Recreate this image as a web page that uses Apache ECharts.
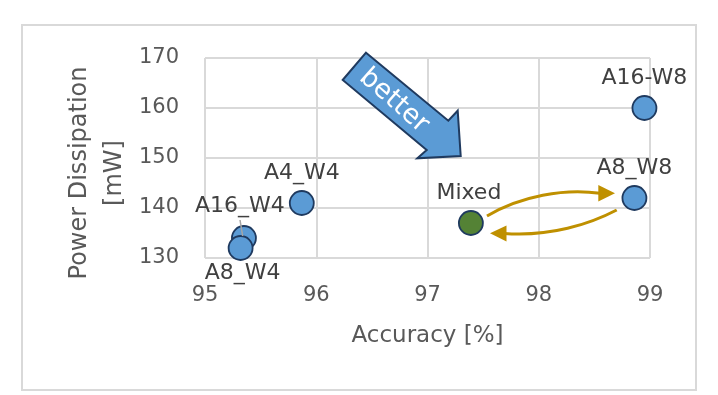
<!DOCTYPE html>
<html>
<head>
<meta charset="utf-8">
<script src="https://cdn.jsdelivr.net/npm/echarts@6/dist/echarts.min.js"></script>
<style>html,body{margin:0;padding:0;background:#fff;}#c{width:718px;height:395px;}</style>
</head>
<body>
<div id="c"></div>
<script>
// ---- data ----
const names = ['A16-W8', 'A8_W8', 'Mixed', 'A4_W4', 'A16_W4', 'A8_W4'];
const accuracy = [98.95, 98.86, 97.39, 95.87, 95.35, 95.32];
const power = [160, 142, 137, 141, 134, 132];
const xTicks = [95, 96, 97, 98, 99];
const yTicks = [130, 140, 150, 160, 170];

const labelPos = {'A16-W8':['top',6,0],'A8_W8':['top',6,0],'Mixed':['top',6,-2],'A4_W4':['top',6,0],'A16_W4':['top',8,-4],'A8_W4':['bottom',1,2]};
const txt = '#595959';
const lblTxt = '#404040';
const font = 'DejaVu Sans';

const chart = echarts.init(document.getElementById('c'));
const data = names.map((n, i) => ({
  name: n,
  value: [accuracy[i], power[i]],
  itemStyle: { color: n === 'Mixed' ? '#548235' : '#5b9bd5', borderColor: '#1f3a5f', borderWidth: 1.8, opacity: 1 },
  label: { position: labelPos[n][0], distance: labelPos[n][1], offset: [labelPos[n][2], 0] }
}));

chart.setOption({
  backgroundColor: '#fff',
  animation: false,
  grid: { left: 205, right: 68, top: 58, bottom: 137 },
  xAxis: {
    type: 'value', min: xTicks[0], max: xTicks[xTicks.length - 1], interval: 1,
    name: 'Accuracy [%]', nameLocation: 'middle', nameGap: 67,
    nameTextStyle: { color: txt, fontSize: 23, fontFamily: font },
    axisLine: { show: false }, axisTick: { show: false },
    axisLabel: { color: txt, fontSize: 21, fontFamily: font, margin: 27 },
    splitLine: { show: true, lineStyle: { color: '#d9d9d9', width: 2 } }
  },
  yAxis: {
    type: 'value', min: yTicks[0], max: yTicks[yTicks.length - 1], interval: 10,
    axisLine: { show: false }, axisTick: { show: false },
    axisLabel: { color: txt, fontSize: 21, fontFamily: font, margin: 26 },
    splitLine: { show: true, lineStyle: { color: '#d9d9d9', width: 2 } }
  },
  series: [{
    type: 'scatter', symbol: 'circle', symbolSize: 24, clip: false, z: 5,
    data: data,
    label: { show: true, formatter: '{b}', color: lblTxt, fontSize: 22, fontFamily: font }
  }],
  graphic: [
    { type: 'rect', shape: { x: 22, y: 25, width: 674, height: 365 }, style: { fill: 'none', stroke: '#d9d9d9', lineWidth: 2 }, z: 0 },
    { type: 'text', x: 80, y: 173, rotation: Math.PI / 2, z: 3,
      style: { text: 'Power Dissipation', fill: txt, font: '24px "DejaVu Sans"', textAlign: 'center', textVerticalAlign: 'middle' } },
    { type: 'text', x: 115, y: 173, rotation: Math.PI / 2, z: 3,
      style: { text: '[mW]', fill: txt, font: '24px "DejaVu Sans"', textAlign: 'center', textVerticalAlign: 'middle' } },
    { type: 'polygon', shape: { points: [[366,52.7],[448.3,120.7],[457.7,110.7],[460.7,156],[417.3,158.3],[426.7,150],[342.7,80]] },
      style: { fill: '#5b9bd5', stroke: '#1f3a5f', lineWidth: 2 }, z: 10 },
    { type: 'text', x: 394, y: 101, rotation: -0.72, z: 11,
      style: { text: 'better', fill: '#fff', font: '27px "DejaVu Sans"', textAlign: 'center', textVerticalAlign: 'middle' } },
    { type: 'bezierCurve', shape: { x1: 487, y1: 216, cpx1: 520, cpy1: 196, cpx2: 565, cpy2: 188, x2: 600, y2: 193.3 },
      style: { stroke: '#bf9000', lineWidth: 3, fill: 'none' }, z: 10 },
    { type: 'polygon', shape: { points: [[615,193.3],[598.3,185],[598.3,201.5]] }, style: { fill: '#bf9000' }, z: 10 },
    { type: 'bezierCurve', shape: { x1: 616.7, y1: 210, cpx1: 590, cpy1: 224, cpx2: 550, cpy2: 237, x2: 504, y2: 233.5 },
      style: { stroke: '#bf9000', lineWidth: 3, fill: 'none' }, z: 10 },
    { type: 'polygon', shape: { points: [[490,233.3],[506.5,225.5],[506.5,241.5]] }, style: { fill: '#bf9000' }, z: 10 },
    { type: 'line', shape: { x1: 240, y1: 220, x2: 242.7, y2: 236 }, style: { stroke: '#a6a6a6', lineWidth: 1.5 }, z: 6 }
  ]
});
</script>
</body>
</html>
